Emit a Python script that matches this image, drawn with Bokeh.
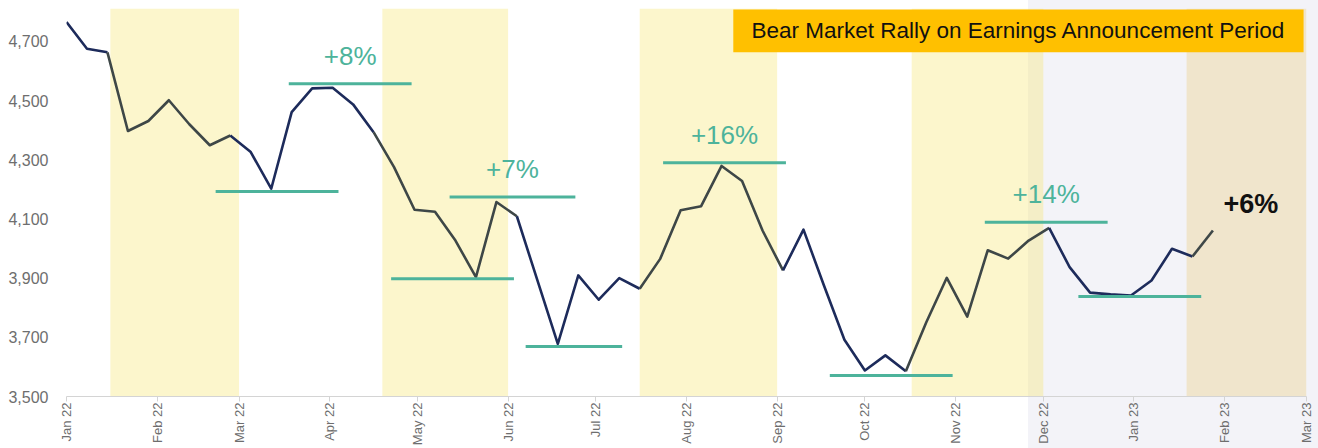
import numpy as np
import pandas as pd
from bokeh.plotting import figure
from bokeh.models import (BoxAnnotation, FixedTicker, NumeralTickFormatter,
                          DatetimeTickFormatter, MonthsTicker, Range1d, Label)
from bokeh.core.properties import value
from bokeh.embed import file_html
from bokeh.resources import INLINE

# ---------------- data ----------------
first_week = "2022-01-01"
close = [4765, 4675, 4663, 4397, 4431, 4501, 4420, 4349, 4382, 4326,
         4202, 4461, 4541, 4543, 4487, 4393, 4275, 4131, 4124, 4027,
         3903, 4157, 4109, 3893, 3678, 3909, 3827, 3900, 3864, 3965,
         4129, 4143, 4279, 4228, 4061, 3926, 4064, 3875, 3692, 3588,
         3639, 3585, 3751, 3901, 3770, 3994, 3966, 4027, 4070, 3937,
         3851, 3845, 3841, 3892, 3999, 3973, 4061]

# earnings announcement periods
band_start = ["2022-01-16", "2022-04-19", "2022-07-16", "2022-10-17", "2023-01-19"]
band_end = ["2022-03-01", "2022-06-01", "2022-09-01", "2022-12-01", "2023-03-01"]

# shaded (greyed) recent period
recent_start = "2022-11-26"

# support / resistance levels
lvl_value = [4193, 4557, 3898, 4174, 3669, 4290, 3571, 4089, 3838]
lvl_start = ["2022-02-21", "2022-03-18", "2022-04-22", "2022-05-12", "2022-06-07",
             "2022-07-24", "2022-09-19", "2022-11-11", "2022-12-13"]
lvl_end = ["2022-04-04", "2022-04-29", "2022-06-03", "2022-06-24", "2022-07-10",
           "2022-09-04", "2022-10-31", "2022-12-23", "2023-01-24"]

rally_text = ["+8%", "+7%", "+16%", "+14%"]
rally_level = [1, 3, 5, 7]  # index of the level line each label sits above

last_text = "+6%"
last_date = "2023-02-10"
last_value = 4150

y_ticks = [3500, 3700, 3900, 4100, 4300, 4500, 4700]
title_text = "Bear Market Rally on Earnings Announcement Period"

# ---------------- styles ----------------
NAVY = "#1d2b5b"
GRAY = "#3e4747"
TEAL = "#4db39b"
YELLOW = "#f5e464"
TAN = "#f0e5cc"
LAVENDER = "#f3f3f8"
ORANGE = "#ffc000"
FONT = "Liberation Sans"
W, H = 1318, 448
LEFT, RIGHT, TOP, BOTTOM = 66, 12, 8, 52


def ms(x):
    return np.array(pd.to_datetime(list(x)), dtype="datetime64[ms]").astype(np.int64).astype(float)


def ms1(s):
    return float(pd.Timestamp(s).value / 1e6)


weeks = pd.date_range(first_week, periods=len(close), freq="7D")
t = ms(weeks)

x0, x1 = ms1("2022-01-01"), ms1("2023-03-01")
p = figure(width=W, height=H, x_axis_type="datetime", output_backend="svg",
           toolbar_location=None, title=None,
           x_range=Range1d(x0, x1), y_range=Range1d(3500, 4811),
           min_border_left=LEFT, min_border_right=RIGHT, min_border_top=TOP,
           min_border_bottom=BOTTOM)
p.border_fill_color = None
p.background_fill_color = None
p.outline_line_color = None
# grey wash of the recent period also covers the margins around the frame
wash_px = LEFT + (ms1(recent_start) - x0) / (x1 - x0) * (W - LEFT - RIGHT)
p.styles = {"background": f"linear-gradient(to right, #ffffff {wash_px:.1f}px, {LAVENDER} {wash_px:.1f}px)"}
p.xgrid.visible = False
p.ygrid.visible = False

# recent period shading (inside frame)
p.add_layout(BoxAnnotation(left=ms1(recent_start), fill_color=LAVENDER, fill_alpha=1.0,
                           line_color=None, level="underlay"))

# earnings bands
for i, (s, e) in enumerate(zip(band_start, band_end)):
    last = i == len(band_start) - 1
    p.add_layout(BoxAnnotation(left=ms1(s), right=ms1(e),
                               fill_color=TAN if last else YELLOW,
                               fill_alpha=1.0 if last else 0.33,
                               line_color=None, level="underlay"))

# price line: grey inside earnings periods, navy otherwise
bs, be = ms(band_start), ms(band_end)
mid = (t[:-1] + t[1:]) / 2
inside = [bool(np.any((m >= bs) & (m < be))) for m in mid]
xs, ys, cols = [], [], []
i = 0
while i < len(mid):
    j = i
    while j + 1 < len(mid) and inside[j + 1] == inside[i]:
        j += 1
    xs.append([float(v) for v in t[i:j + 2]])
    ys.append(close[i:j + 2])
    cols.append(GRAY if inside[i] else NAVY)
    i = j + 1
p.multi_line(xs=xs, ys=ys, line_color=cols, line_width=2.6, line_join="round")

# level lines
ls, le = ms(lvl_start), ms(lvl_end)
p.segment(x0=ls, x1=le, y0=lvl_value, y1=lvl_value, line_color=TEAL, line_width=3)

# rally labels
lab_x = [(ls[k] + le[k]) / 2 for k in rally_level]
lab_y = [lvl_value[k] for k in rally_level]
p.text(x=lab_x, y=lab_y, text=rally_text, text_color=TEAL, text_font=value(FONT),
       text_font_size="26px", text_align="center", text_baseline="middle", y_offset=-28)

p.text(x=[ms1(last_date)], y=[last_value], text=[last_text], text_color="#111111",
       text_font=value(FONT), text_font_size="27px", text_font_style="bold",
       text_align="center", text_baseline="middle")

# title box
box_l, box_r = ms1("2022-08-17"), ms1("2023-02-28")
box_b, box_t = 4663, 4808
p.add_layout(BoxAnnotation(left=box_l, right=box_r, bottom=box_b, top=box_t,
                           fill_color=ORANGE, fill_alpha=1.0, line_color=None))
p.add_layout(Label(x=(box_l + box_r) / 2, y=(box_b + box_t) / 2, text=title_text,
                   text_align="center", text_baseline="middle", text_font=FONT,
                   text_font_size="22.5px", text_color="#111111"))

# axes
xa = p.xaxis[0]
xa.ticker = MonthsTicker(months=list(range(12)))
xa.formatter = DatetimeTickFormatter(months="%b %y", days="%b %y")
xa.major_label_orientation = np.pi / 2
xa.axis_line_color = "#d4d4d4"
xa.major_tick_line_color = "#d4d4d4"
xa.major_tick_in = 0
xa.major_tick_out = 5
xa.minor_tick_line_color = None
xa.major_label_text_font = FONT
xa.major_label_text_font_size = "13px"
xa.major_label_text_color = "#6e6e6e"
xa.major_label_standoff = 1

ya = p.yaxis[0]
ya.ticker = FixedTicker(ticks=y_ticks)
ya.formatter = NumeralTickFormatter(format="0,0")
ya.axis_line_color = None
ya.major_tick_line_color = None
ya.minor_tick_line_color = None
ya.major_label_text_font = FONT
ya.major_label_text_font_size = "16px"
ya.major_label_text_color = "#6e6e6e"
ya.major_label_standoff = 12

open("out.html", "w").write(file_html(p, INLINE))
